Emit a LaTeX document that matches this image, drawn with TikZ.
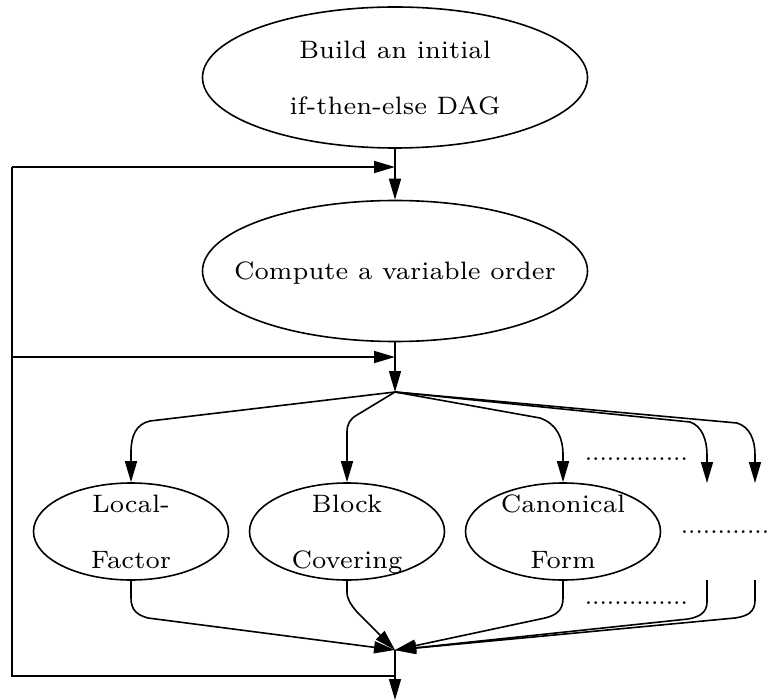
\documentclass[tikz,border=0pt]{standalone}
\usepackage{graphicx}
\usetikzlibrary{shapes.geometric,arrows.meta}

% Two-line (or one-line) label set in the 7pt optical size, enlarged;
% smashed so that the ellipse keeps its own fixed size.
\newcommand\boxtext[1]{\makebox[0pt]{\smash{\raisebox{-4pt}{\scalebox{3.6}{%
  \fontsize{7}{15.56}\selectfont\begin{tabular}{@{}c@{}}#1\end{tabular}}}}}}
% A row of full stops standing for further, omitted steps.
\newcommand\dotrow[1]{\scalebox{2.65}{\fontsize{10}{12}\selectfont #1}}

\begin{document}
\begin{tikzpicture}[x=1pt,y=-1pt,line width=1.6pt,line join=miter,
  bigoval/.style={draw,ellipse,inner sep=0pt,minimum width=385pt,minimum height=141pt},
  smalloval/.style={draw,ellipse,inner sep=0pt,minimum width=195pt,minimum height=97pt},
  arr/.style={-{Triangle[length=21pt,width=12pt]}},
  dotsnode/.style={inner sep=0pt,anchor=west}]
\useasboundingbox (0,0) rectangle (773,700);

% main steps
\node[bigoval] (build) at (395,77.5) {\boxtext{Build an initial\\if-then-else DAG}};
\node[bigoval] (order) at (395,271) {\boxtext{Compute a variable order}};

% alternative transformations
\node[smalloval] (local) at (131,531.5) {\boxtext{Local-\\Factor}};
\node[smalloval] (block) at (347,531.5) {\boxtext{Block\\Covering}};
\node[smalloval] (canon) at (563,531.5) {\boxtext{Canonical\\Form}};

\node[dotsnode] (dotsA) at (584,459) {\dotrow{..............}};
\node[dotsnode] (dotsB) at (680,532) {\dotrow{............}};
\node[dotsnode] (dotsC) at (584,603) {\dotrow{..............}};

% branching and joining points
\coordinate (branch) at (395,392);
\coordinate (join) at (395,650);
\coordinate (endD) at (707,483);
\coordinate (endE) at (755,483);
\coordinate (startD) at (707,580);
\coordinate (startE) at (755,580);

% feedback loop
\coordinate (corner) at (395,676);
\coordinate (loopL) at (12,676);
\coordinate (loopT) at (12,167);
\coordinate (loopM) at (12,357);
\coordinate (inT) at (395,167);
\coordinate (inM) at (395,357);
\coordinate (out) at (395,700);

\draw[arr] (build) -- (order);
\draw[arr] (order) -- (branch);

\draw (join) -- (corner) -- (loopL) -- (loopT);
\draw[arr] (loopT) -- (inT);
\draw[arr] (loopM) -- (inM);
\draw[arr] (corner) -- (out);

% fan out
\draw[arr] (branch) -- (150,421) .. controls (136,424) and (131,436) .. (131,452) -- (local);
\draw[arr] (branch) -- (357,415) .. controls (350,419) and (347,424) .. (347,432) -- (block);
\draw[arr] (branch) -- (540,418) .. controls (557,424) and (563,438) .. (563,455) -- (canon);
\draw[arr] (branch) -- (690,422) .. controls (702,426) and (707,440) .. (707,455) -- (endD);
\draw[arr] (branch) -- (737,423) .. controls (750,427) and (755,440) .. (755,455) -- (endE);

% fan in
\draw[arr] (local) -- (131,598) .. controls (131,610) and (137,615) .. (148,618) -- (join);
\draw[arr] (block) -- (347,592) .. controls (347,600) and (352,606) .. (357,612) -- (join);
\draw[arr] (canon) -- (563,598) .. controls (563,610) and (557,615) .. (545,618) -- (join);
\draw[arr] (startD) -- (707,602) .. controls (707,612) and (700,617) .. (688,619) -- (join);
\draw[arr] (startE) -- (755,600) .. controls (755,612) and (748,616) .. (735,618) -- (join);
\end{tikzpicture}
\end{document}
